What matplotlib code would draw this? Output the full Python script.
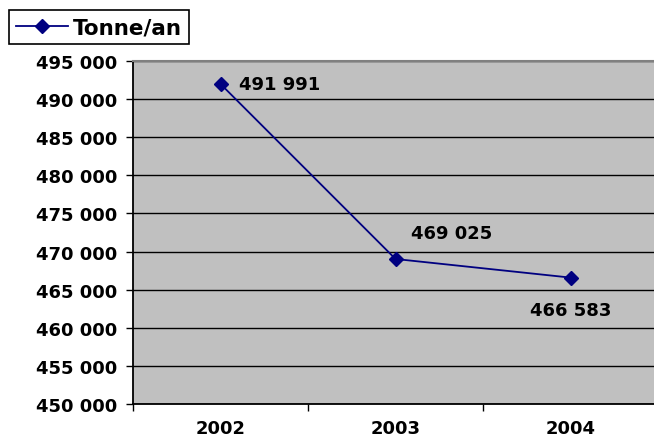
import matplotlib
matplotlib.use("Agg")
import matplotlib.pyplot as plt
from matplotlib.ticker import FuncFormatter, FixedLocator

years = ["2002", "2003", "2004"]
tonnes = [491991, 469025, 466583]
series_name = "Tonne/an"

navy = "#000080"
fs = 13
fig = plt.figure(figsize=(6.54, 4.39), dpi=100)
ax = fig.add_axes([133/654, 1-405/439, 525/654, 343/439])
ax.set_facecolor("#C0C0C0")

x = list(range(len(years)))
line, = ax.plot(x, tonnes, color=navy, lw=1.3, marker="D", ms=7,
                mec=navy, mfc=navy, label=series_name, zorder=3)

ax.set_xlim(-0.5, len(years) - 0.5)
ax.set_ylim(450000, 495000)
ax.set_yticks(range(450000, 495001, 5000))
ax.yaxis.set_major_formatter(FuncFormatter(lambda v, p: f"{int(v):,}".replace(",", " ")))
ax.grid(axis="y", color="black", lw=1.0, zorder=1)

ax.set_xticks(x)
ax.set_xticklabels(years)
ax.xaxis.set_minor_locator(FixedLocator([-0.5, 0.5, 1.5]))
ax.tick_params(axis="x", which="major", length=0, pad=11)
ax.tick_params(axis="x", which="minor", length=5, width=1, color="black")
ax.tick_params(axis="y", length=5, width=1, color="black", pad=6)

for lab in ax.get_xticklabels() + ax.get_yticklabels():
    lab.set_fontweight("bold")
    lab.set_fontsize(fs)
    lab.set_fontfamily("DejaVu Sans")

for s in ("left", "bottom"):
    ax.spines[s].set_color("black")
    ax.spines[s].set_linewidth(1.3)
ax.spines["top"].set_color("#808080")
ax.spines["top"].set_linewidth(1.5)
ax.spines["right"].set_visible(False)

# value labels (offsets in points from each marker)
offsets = [(13, 0), (11.5, 18.5), (-29.5, -23)]
for xi, v, (dx, dy) in zip(x, tonnes, offsets):
    ax.annotate(f"{v:,}".replace(",", " "), (xi, v), xytext=(dx, dy),
                textcoords="offset points", ha="left", va="center",
                fontsize=fs, fontweight="bold", color="black")

leg = fig.legend(handles=[line], loc="upper left", bbox_to_anchor=(9/654, 1-11/439),
                 frameon=True, fancybox=False, edgecolor="black", framealpha=1,
                 handlelength=2.4, borderpad=0.33, handletextpad=0.25,
                 borderaxespad=0, prop={"weight": "bold", "size": 15.5})
leg.get_frame().set_linewidth(1.2)

fig.savefig("out.png", dpi=100)
